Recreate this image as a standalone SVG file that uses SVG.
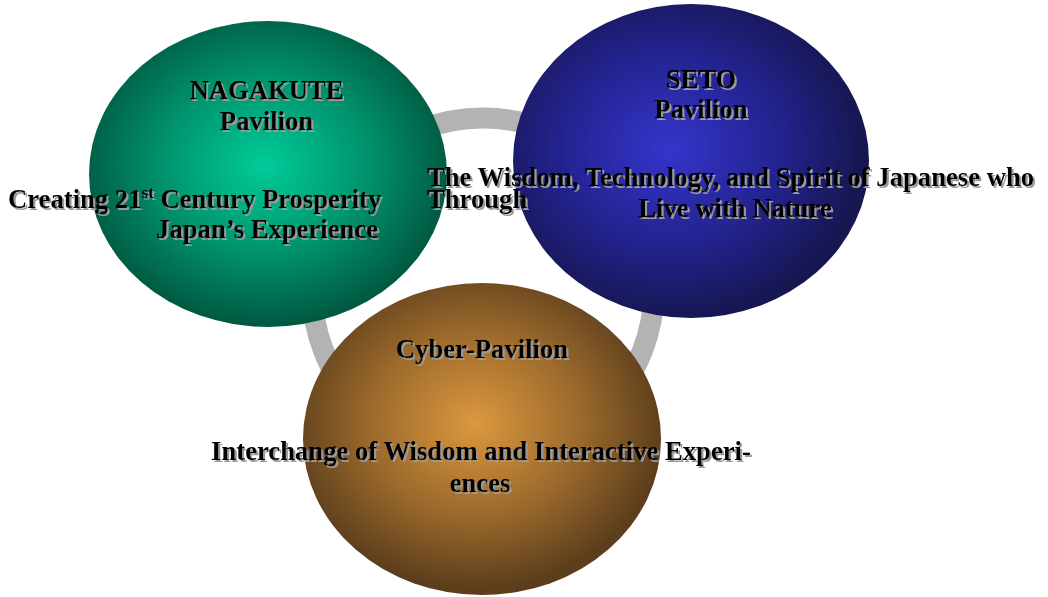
<svg xmlns="http://www.w3.org/2000/svg" width="1048" height="597" viewBox="0 0 1048 597">
  <defs>
    <radialGradient id="gGreen" cx="0.49" cy="0.47" r="0.52">
      <stop offset="0" stop-color="#00cc99"/>
      <stop offset="0.55" stop-color="#00936d"/>
      <stop offset="1" stop-color="#005a42"/>
    </radialGradient>
    <radialGradient id="gBlue" cx="0.44" cy="0.46" r="0.55">
      <stop offset="0" stop-color="#3535cc"/>
      <stop offset="0.55" stop-color="#232390"/>
      <stop offset="1" stop-color="#161650"/>
    </radialGradient>
    <radialGradient id="gBrown" cx="0.48" cy="0.45" r="0.53">
      <stop offset="0" stop-color="#dc983e"/>
      <stop offset="0.55" stop-color="#9c6a2c"/>
      <stop offset="1" stop-color="#5c3e1c"/>
    </radialGradient>
    <filter id="shadow" x="-5%" y="-20%" width="110%" height="150%">
      <feDropShadow dx="2" dy="2" stdDeviation="0.3" flood-color="#9a9a9a" flood-opacity="1"/>
    </filter>
  </defs>
  <style>
    .lbl { font-family: "Liberation Serif", "Times New Roman", serif; font-weight: bold; font-size: 26.67px; fill: #000000; filter: url(#shadow); }
    .mid { text-anchor: middle; }
    .ring { fill: none; stroke: #b3b3b3; stroke-width: 21; }
  </style>

  <!-- connecting ring behind the pavilions -->
  <g id="connectors">
    <circle class="ring" cx="483" cy="289" r="171"/>
  </g>

  <g id="nagakute">
    <ellipse cx="268" cy="174" rx="179" ry="153" fill="url(#gGreen)"/>
  </g>
  <g id="seto">
    <ellipse cx="691" cy="161" rx="178" ry="157" fill="url(#gBlue)"/>
  </g>
  <g id="cyber">
    <ellipse cx="482" cy="439" rx="179" ry="156" fill="url(#gBrown)"/>
  </g>

  <g id="labels">
    <text class="lbl mid" x="266.5" y="99">NAGAKUTE</text>
    <text class="lbl mid" x="266.5" y="130">Pavilion</text>
    <text class="lbl" x="8" y="208">Creating 21<tspan dy="-10" font-size="17px">st</tspan><tspan dy="10"> Century Prosperity</tspan></text>
    <text class="lbl" x="378" y="238" text-anchor="end">Japan’s Experience</text>

    <text class="lbl mid" x="701" y="88">SETO</text>
    <text class="lbl mid" x="701" y="118">Pavilion</text>
    <text class="lbl" x="427" y="186">The Wisdom, Technology, and Spirit of Japanese who</text>
    <text class="lbl" x="427" y="208">Through</text>
    <text class="lbl mid" x="735" y="217">Live with Nature</text>

    <text class="lbl mid" x="482" y="358">Cyber-Pavilion</text>
    <text class="lbl mid" x="481" y="460">Interchange of Wisdom and Interactive Experi-</text>
    <text class="lbl mid" x="480" y="492">ences</text>
  </g>
</svg>
